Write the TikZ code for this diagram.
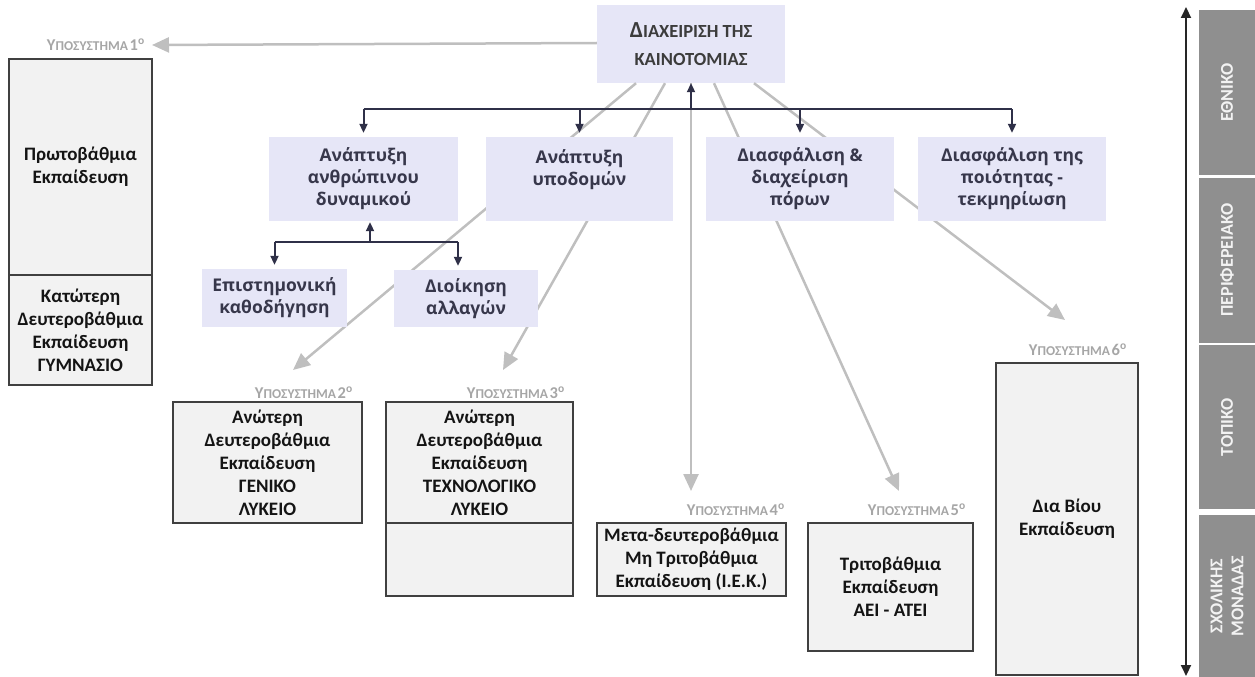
\documentclass[tikz,border=0pt]{standalone}
\usepackage{fontspec}
\setmainfont{Carlito}
\newfontfamily\osans{Open Sans}
\usetikzlibrary{arrows.meta}
\definecolor{lav}{RGB}{230,230,247}
\definecolor{dk}{RGB}{47,48,72}
\definecolor{lgray}{RGB}{191,191,191}
\definecolor{boxfill}{RGB}{242,242,242}
\definecolor{boxline}{RGB}{64,64,64}
\definecolor{labgray}{RGB}{166,166,166}
\definecolor{bargray}{RGB}{143,143,143}
\definecolor{titlecol}{RGB}{60,60,60}
\definecolor{lavtext}{RGB}{55,55,75}
\newcommand\sublabel[1]{{\fontsize{16.5}{16}\selectfont Υ}{\fontsize{13.5}{16}\selectfont ΠΟΣΥΣΤΗΜΑ}\,{\fontsize{16.5}{16}\selectfont #1\textsuperscript{o}}}
\begin{document}
\begin{tikzpicture}[x=1pt,y=-1pt,
  lavbox/.style={fill=lav, draw=none, align=center, inner sep=0pt, text=lavtext, font=\osans\bfseries\fontsize{17.5}{22}\selectfont},
  graybox/.style={fill=boxfill, draw=boxline, line width=1.8pt, align=center, inner sep=0pt, text=black!92, font=\bfseries\fontsize{19}{23}\selectfont},
  sublab/.style={text=labgray, font=\bfseries, anchor=east, inner sep=0pt},
  gline/.style={draw=lgray, line width=2.5pt, -{Triangle[length=17pt,width=15pt]}},
  dline/.style={draw=dk, line width=2pt},
  darr/.style={dline, -{Triangle[length=9pt,width=8pt]}},
  barseg/.style={fill=bargray, inner sep=0pt, rotate=90, text=white!95!black, align=center, font=\bfseries\fontsize{18}{21}\selectfont, minimum height=56pt}
]
\useasboundingbox (0,0) rectangle (1255,677);

% title
\node[lavbox, minimum width=188pt, minimum height=78pt, text=titlecol, font=\bfseries\fontsize{18.5}{28}\selectfont] (t) at (691,44)
  {{\fontsize{23}{28}\selectfont Δ}ΙΑΧΕΙΡΙΣΗ ΤΗΣ\\ΚΑΙΝΟΤΟΜΙΑΣ};

% gray connector ends
\coordinate (g0s) at ([yshift=1pt]t.west);
\coordinate (g1s) at ([xshift=-55pt]t.south);
\coordinate (g2s) at ([xshift=-26pt]t.south);
\coordinate (g3s) at (t.south);
\coordinate (g4s) at ([xshift=23pt]t.south);
\coordinate (g5s) at ([xshift=63pt]t.south);
\coordinate (g0e) at (152,45);
\coordinate (g1e) at (293,370);
\coordinate (g2e) at (503,370);
\coordinate (g3e) at (691,491);
\coordinate (g4e) at (899,491);
\coordinate (g5e) at (1065,320);
\draw[gline] (g0s) -- (g0e);
\draw[gline] (g1s) -- (g1e);
\draw[gline] (g2s) -- (g2e);
\draw[gline] (g3s) -- (g3e);
\draw[gline] (g4s) -- (g4e);
\draw[gline] (g5s) -- (g5e);

% second level
\node[lavbox, minimum width=189pt, minimum height=84pt] (d1) at (363.5,179) {Ανάπτυξη\\ανθρώπινου\\δυναμικού};
\node[lavbox, minimum width=187pt, minimum height=84pt] (d2) at (579.5,179) {Ανάπτυξη\\υποδομών\\\mbox{}};
\node[lavbox, minimum width=188pt, minimum height=84pt] (d3) at (800,179) {Διασφάλιση \&\\διαχείριση\\πόρων};
\node[lavbox, minimum width=188pt, minimum height=84pt] (d4) at (1012,179) {Διασφάλιση της\\ποιότητας -\\τεκμηρίωση};

% third level
\node[lavbox, minimum width=145pt, minimum height=58pt] (e1) at (274.5,298) {Επιστημονική\\καθοδήγηση};
\node[lavbox, minimum width=144pt, minimum height=57pt] (e2) at (466,298.5) {Διοίκηση\\αλλαγών};

% dark connectors
\coordinate (bus) at (691,109);
\draw[dline] (d1.north |- bus) -- (d4.north |- bus);
\draw[darr] (bus) -- (t.south);
\draw[darr, shorten >=4pt] (d1.north |- bus) -- (d1.north);
\draw[darr, shorten >=4pt] (d2.north |- bus) -- (d2.north);
\draw[darr, shorten >=4pt] (d3.north |- bus) -- (d3.north);
\draw[darr, shorten >=4pt] (d4.north |- bus) -- (d4.north);
\coordinate (bus2) at (370,242);
\coordinate (e2in) at ([xshift=-8pt]e2.north);
\draw[darr, shorten >=1pt] (bus2) -- (bus2 |- d1.south);
\draw[dline] (e1.north |- bus2) -- (e2in |- bus2);
\draw[darr, shorten >=4pt] (e1.north |- bus2) -- (e1.north);
\draw[darr, shorten >=4pt] (e2in |- bus2) -- (e2in);

% grey boxes
\node[graybox, minimum width=143pt, minimum height=216pt] (b1a) at (80.5,167) {Πρωτοβάθμια\\Εκπαίδευση};
\node[graybox, minimum width=143pt, minimum height=110pt] (b1b) at (80.5,330) {Κατώτερη\\Δευτεροβάθμια\\Εκπαίδευση\\ΓΥΜΝΑΣΙΟ};
\node[graybox, minimum width=189pt, minimum height=121pt] (b2) at (267.5,462.5) {Ανώτερη\\Δευτεροβάθμια\\Εκπαίδευση\\ΓΕΝΙΚΟ\\ΛΥΚΕΙΟ};
\node[graybox, minimum width=187pt, minimum height=121pt] (b3a) at (479.5,462.5) {Ανώτερη\\Δευτεροβάθμια\\Εκπαίδευση\\ΤΕΧΝΟΛΟΓΙΚΟ\\ΛΥΚΕΙΟ};
\node[graybox, minimum width=187pt, minimum height=73pt] (b3b) at (479.5,559.5) {};
\node[graybox, minimum width=189pt, minimum height=73pt] (b4) at (691.5,559.5) {Μετα-δευτεροβάθμια\\Μη Τριτοβάθμια\\Εκπαίδευση (Ι.Ε.Κ.)};
\node[graybox, minimum width=165pt, minimum height=128pt] (b5) at (890.5,587) {Τριτοβάθμια\\Εκπαίδευση\\ΑΕΙ - ΑΤΕΙ};
\node[graybox, minimum width=142pt, minimum height=312pt] (b6) at (1067,519) {Δια Βίου\\Εκπαίδευση};

% subsystem labels
\node[sublab] (l1) at (145,45) {\sublabel{1}};
\node[sublab] (l2) at (353,393) {\sublabel{2}};
\node[sublab] (l3) at (565,393) {\sublabel{3}};
\node[sublab] (l4) at (785,510) {\sublabel{4}};
\node[sublab] (l5) at (966,510) {\sublabel{5}};
\node[sublab] (l6) at (1127,350) {\sublabel{6}};

% right bar
\node[barseg, minimum width=165pt] (s1) at (1227,92.5) {ΕΘΝΙΚΟ};
\node[barseg, minimum width=165pt] (s2) at (1227,260) {ΠΕΡΙΦΕΡΕΙΑΚΟ};
\node[barseg, minimum width=164pt] (s3) at (1227,427) {ΤΟΠΙΚΟ};
\node[barseg, minimum width=162pt] (s4) at (1227,596) {ΣΧΟΛΙΚΗΣ\\ΜΟΝΑΔΑΣ};
\coordinate (vtop) at (1186,7);
\coordinate (vbot) at (1186,676);
\draw[draw=black!85, line width=2pt, {Triangle[length=11pt,width=10pt]}-{Triangle[length=11pt,width=10pt]}] (vtop) -- (vbot);
\end{tikzpicture}
\end{document}
